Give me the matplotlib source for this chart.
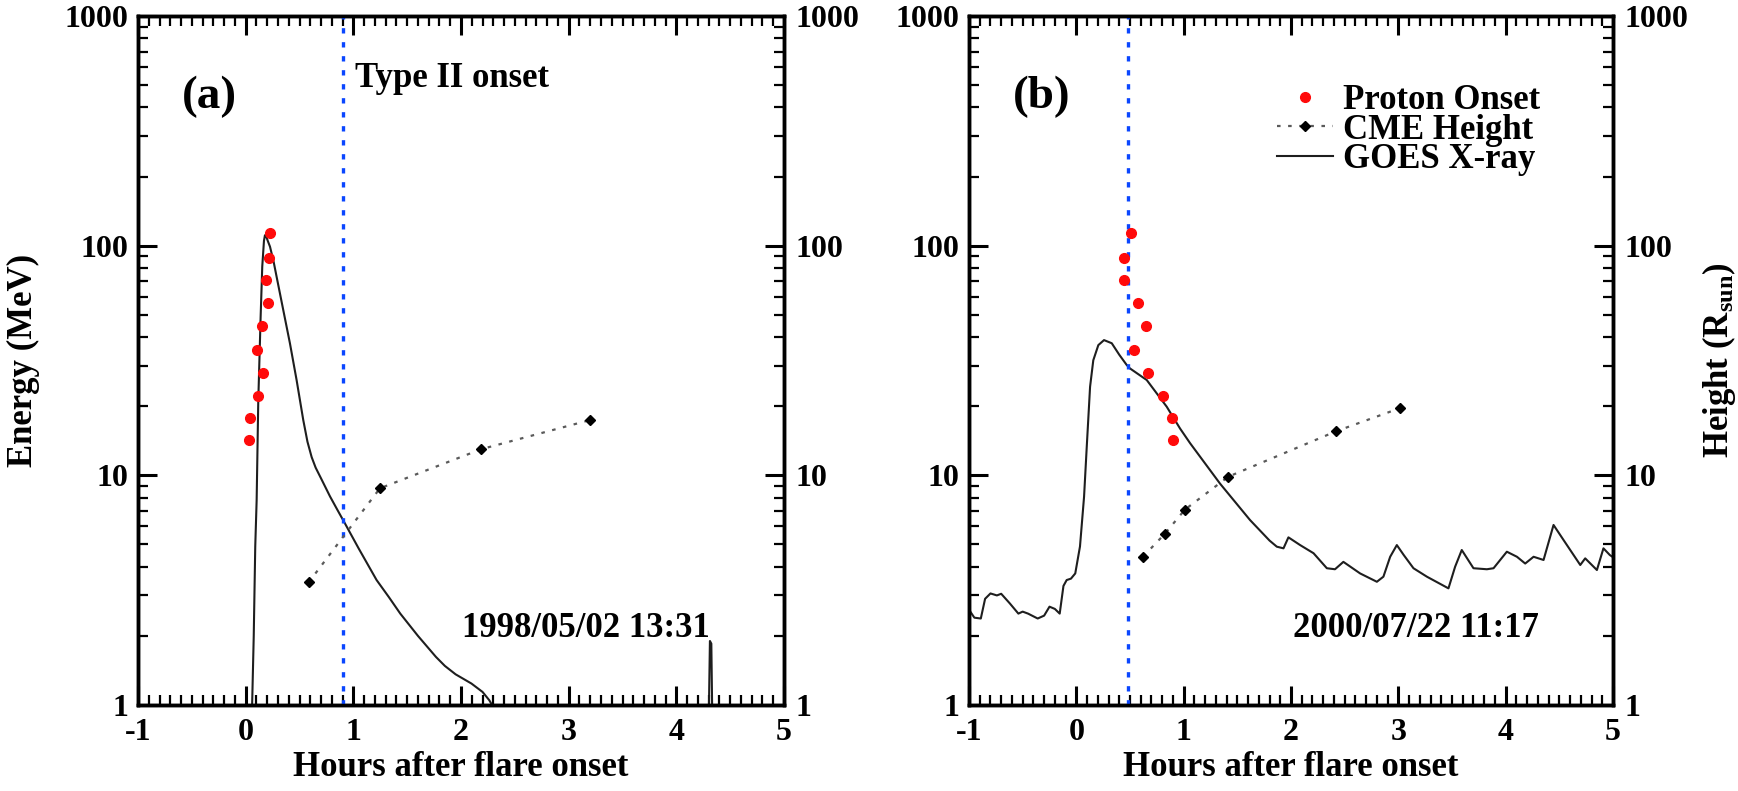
import matplotlib
matplotlib.use('Agg')
import matplotlib.pyplot as plt
from matplotlib.ticker import MultipleLocator, FixedLocator, FixedFormatter, LogLocator, NullFormatter

plt.rcParams['font.family'] = ['Liberation Serif', 'DejaVu Serif']
plt.rcParams['font.weight'] = 'bold'
plt.rcParams['axes.labelweight'] = 'bold'
plt.rcParams['axes.unicode_minus'] = False
plt.rcParams['mathtext.fontset'] = 'custom'
plt.rcParams['mathtext.rm'] = 'Liberation Serif:bold'
plt.rcParams['mathtext.it'] = 'Liberation Serif:bold:italic'
plt.rcParams['mathtext.bf'] = 'Liberation Serif:bold'

# ---------------- data ----------------
x_ticks = [-1, 0, 1, 2, 3, 4, 5]
x_ticklabels = ['-1', '0', '1', '2', '3', '4', '5']
y_ticks = [1, 10, 100, 1000]
y_ticklabels = ['1', '10', '100', '1000']

# Panel (a) 1998/05/02
proton_energy = [114, 88.6, 71, 56, 44.5, 35.3, 28, 22.2, 17.7, 14.3]
proton_time_a = [0.226, 0.216, 0.188, 0.21, 0.148, 0.102, 0.164, 0.117, 0.04, 0.031]
cme_time_a = [0.585, 1.247, 2.188, 3.197]
cme_height_a = [3.42, 8.78, 13.0, 17.4]
goes_time_a = [0.05, 0.06, 0.075, 0.089, 0.102, 0.117, 0.139, 0.154, 0.17, 0.179, 0.19,
               0.205, 0.226, 0.26, 0.288, 0.349, 0.411, 0.473, 0.535, 0.574, 0.613, 0.65,
               0.70, 0.783, 0.85, 0.92, 1.05, 1.216, 1.33, 1.436, 1.6, 1.767, 1.85, 1.95,
               2.097, 2.2, 2.262, 2.3, 3.0,
               4.30, 4.312, 4.325, 4.335, 5.0]
goes_flux_a = [0.9, 1.0, 2.0, 4.9, 7.8, 21, 49, 81, 105, 111, 110,
               105, 99, 85, 73, 52.5, 37.6, 26, 17.4, 14.0, 12.0, 10.8,
               9.7, 8.1, 7.1, 6.2, 4.8, 3.5, 2.95, 2.5, 2.0, 1.62, 1.48, 1.36,
               1.24, 1.14, 1.05, 0.98, 0.7,
               0.8, 1.9, 1.85, 0.8, 0.7]
typeII_a = 0.906

# Panel (b) 2000/07/22
proton_time_b = [0.51, 0.44, 0.447, 0.572, 0.646, 0.541, 0.665, 0.805, 0.889, 0.904]
cme_time_b = [0.623, 0.825, 1.01, 1.415, 2.42, 3.013]
cme_height_b = [4.43, 5.57, 7.08, 9.86, 15.55, 19.6]
goes_time_b = [-1.0, -0.95, -0.89, -0.85, -0.80, -0.74, -0.70, -0.62, -0.54, -0.50, -0.45,
               -0.36, -0.30, -0.25, -0.20, -0.155, -0.12, -0.09, -0.05, -0.01, 0.034, 0.072,
               0.097, 0.128, 0.158, 0.205, 0.258, 0.33, 0.40, 0.47, 0.50, 0.656, 0.842,
               0.966, 1.06, 1.339, 1.618, 1.80, 1.868, 1.93, 1.976, 2.085, 2.21, 2.334,
               2.41, 2.488, 2.644, 2.80, 2.861, 2.924, 2.986, 3.05, 3.141, 3.266, 3.467,
               3.529, 3.591, 3.70, 3.825, 3.887, 4.011, 4.105, 4.182, 4.26, 4.353, 4.446,
               4.539, 4.695, 4.741, 4.85, 4.911, 4.97, 5.0]
goes_flux_b = [2.6, 2.4, 2.38, 2.9, 3.06, 3.0, 3.05, 2.77, 2.5, 2.55, 2.5,
               2.38, 2.45, 2.68, 2.62, 2.5, 3.3, 3.5, 3.55, 3.74, 4.9, 8.07,
               13.3, 24.3, 31.7, 36.9, 38.8, 37.6, 33.5, 30.2, 29.2, 26, 19.9,
               16, 13.8, 9.2, 6.39, 5.2, 4.89, 4.81, 5.37, 4.97, 4.58, 3.94,
               3.9, 4.2, 3.74, 3.44, 3.62, 4.42, 4.97, 4.5, 3.94, 3.62, 3.22,
               4.0, 4.73, 3.94, 3.9, 3.94, 4.65, 4.42, 4.13, 4.42, 4.28, 6.08,
               5.23, 4.07, 4.35, 3.87, 4.81, 4.5, 4.4]
typeII_b = 0.485

W, H = 1738, 791
fig = plt.figure(figsize=(W / 100, H / 100), dpi=100)

FS_TICK = 23
FS_LAB = 25
SPINE_LW = 2.5


def make_panel(rect, proton_t, cme_t, cme_h, goes_t, goes_f, t2, tag, date,
               show_type=False):
    ax = fig.add_axes(rect)
    ax.set_yscale('log')
    ax.set_xlim(-1, 5)
    ax.set_ylim(1, 1000)

    g, = ax.plot(goes_t, goes_f, color='#1e1e1e', lw=1.5, solid_joinstyle='round')
    ax.axvline(t2, color='#0a46ff', lw=2.4, ls=(0, (1.6, 2.6)), zorder=3)
    p, = ax.plot(proton_t, proton_energy, 'o', color='#ff0a0a', ms=7, ls='none',
                 zorder=4)

    tw = ax.twinx()
    tw.set_yscale('log')
    tw.set_ylim(1, 1000)
    c, = tw.plot(cme_t, cme_h, color='#5a5a5a', lw=1.6, ls=(0, (1.6, 3.4)),
                 marker='D', ms=5.5, mfc='black', mec='black')

    for a in (ax, tw):
        for s in a.spines.values():
            s.set_linewidth(SPINE_LW)
        a.yaxis.set_major_locator(FixedLocator(y_ticks))
        a.yaxis.set_major_formatter(FixedFormatter(y_ticklabels))
        a.yaxis.set_minor_locator(LogLocator(base=10, subs=range(2, 10)))
        a.yaxis.set_minor_formatter(NullFormatter())

    ax.xaxis.set_major_locator(FixedLocator(x_ticks))
    ax.xaxis.set_major_formatter(FixedFormatter(x_ticklabels))
    ax.xaxis.set_minor_locator(MultipleLocator(0.1))
    ax.tick_params(which='both', direction='in', top=True, right=False)
    ax.tick_params(which='major', length=14, width=2.2, labelsize=FS_TICK)
    ax.tick_params(which='minor', length=7, width=1.6)
    ax.tick_params(axis='y', which='major', pad=7)
    ax.tick_params(axis='x', which='major', pad=9)
    tw.tick_params(which='both', direction='in', left=False, right=True)
    tw.tick_params(which='major', length=14, width=2.2, labelsize=FS_TICK, pad=8)
    tw.tick_params(which='minor', length=7, width=1.6)

    ax.set_xlabel('Hours after flare onset', fontsize=FS_LAB, fontweight='bold',
                  labelpad=3)

    ax.text(0.068, 0.866, tag, transform=ax.transAxes, fontsize=34,
            fontweight='bold', va='baseline', ha='left')
    ax.text(0.885, 0.099, date, transform=ax.transAxes, fontsize=FS_LAB,
            fontweight='bold', va='baseline', ha='right')
    if show_type:
        ax.text(0.336, 0.897, 'Type II onset', transform=ax.transAxes,
                fontsize=FS_LAB, fontweight='bold', va='baseline', ha='left')
    return ax, tw, p, c, g


axA, twA, _, _, _ = make_panel([138 / W, 1 - 705 / H, 646 / W, 689 / H],
                               proton_time_a, cme_time_a, cme_height_a,
                               goes_time_a, goes_flux_a, typeII_a, '(a)',
                               '1998/05/02 13:31', show_type=True)
axA.set_ylabel('Energy (MeV)', fontsize=FS_LAB, fontweight='bold')
axA.yaxis.set_label_coords((40 - 138) / 646, 0.5)

axB, twB, pB, cB, gB = make_panel([969 / W, 1 - 705 / H, 644 / W, 689 / H],
                                  proton_time_b, cme_time_b, cme_height_b,
                                  goes_time_b, goes_flux_b, typeII_b, '(b)',
                                  '2000/07/22 11:17')
twB.set_ylabel('Height (R$_{\\rm sun}$)', fontsize=FS_LAB, fontweight='bold')
twB.yaxis.set_label_coords((1700 - 969) / 644, 0.5)

leg = twB.legend([pB, cB, gB], ['Proton Onset', 'CME Height', 'GOES X-ray'],
                 loc='upper left', bbox_to_anchor=(1277 / W, 1 - 84 / H),
                 bbox_transform=fig.transFigure, frameon=False,
                 prop={'size': FS_LAB, 'weight': 'bold'}, numpoints=1,
                 handlelength=1.6, handletextpad=0.3, labelspacing=-0.1,
                 borderpad=0, borderaxespad=0)

fig.savefig('out.png', dpi=100)
